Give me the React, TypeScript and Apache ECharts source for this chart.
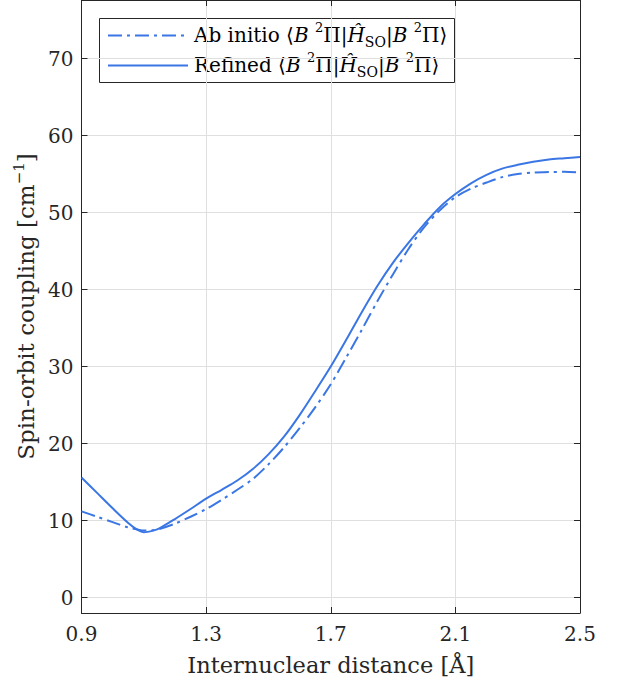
import React, { useEffect, useRef } from "react";
import * as echarts from "echarts";

const distance = [0.9, 0.95, 1.0, 1.05, 1.08, 1.1, 1.13, 1.15, 1.2, 1.25, 1.3, 1.35, 1.4, 1.45, 1.5, 1.55, 1.6, 1.65, 1.7, 1.75, 1.8, 1.85, 1.9, 1.95, 2.0, 2.05, 2.1, 2.15, 2.2, 2.25, 2.3, 2.35, 2.4, 2.45, 2.5];
const refined = [15.6, 13.6, 11.6, 9.7, 8.8, 8.5, 8.7, 9.0, 10.2, 11.5, 12.85, 14.0, 15.2, 16.7, 18.6, 20.9, 23.7, 26.8, 30.0, 33.5, 37.1, 40.5, 43.5, 46.1, 48.5, 50.7, 52.4, 53.8, 54.9, 55.7, 56.2, 56.6, 56.9, 57.05, 57.2];
const abInitio = [11.2, 10.5, 9.8, 9.1, 8.85, 8.7, 8.75, 8.9, 9.6, 10.5, 11.5, 12.7, 14.0, 15.4, 17.3, 19.5, 22.0, 24.7, 27.7, 31.2, 34.8, 38.5, 42.0, 45.3, 48.1, 50.3, 52.0, 53.1, 53.9, 54.6, 55.0, 55.2, 55.25, 55.3, 55.2];
const xTicks = [0.9, 1.3, 1.7, 2.1, 2.5];
const yTicks = [0, 10, 20, 30, 40, 50, 60, 70];
const legendNames = ["Ab initio", "Refined"];

const FONT = "DejaVu Serif";
const LINE_COLOR = "#3a76e4";
const AXIS_COLOR = "#262626";
const DASHDOT = [14, 5, 3, 5];

const mathRich = {
  n: { fontFamily: FONT, fontSize: 20, color: AXIS_COLOR, lineHeight: 28, verticalAlign: "middle" },
  i: { fontFamily: FONT, fontSize: 20, fontStyle: "italic", color: AXIS_COLOR, lineHeight: 28, verticalAlign: "middle" },
  sup: { fontFamily: FONT, fontSize: 13, color: AXIS_COLOR, lineHeight: 28, verticalAlign: "top" },
  sub: { fontFamily: FONT, fontSize: 14, color: AXIS_COLOR, lineHeight: 28, verticalAlign: "bottom" },
};

function legendText(name: string) {
  return `{n|${name} ⟨}{i|B }{sup|2}{n|Π|}{i|H\u0302}{sub|SO}{n||}{i|B }{sup|2}{n|Π⟩}`;
}

export default function App() {
  const ref = useRef<HTMLDivElement>(null);
  useEffect(() => {
    if (!ref.current) return;
    const chart = echarts.init(ref.current, undefined, { renderer: "svg" });
    const tickStyle = { show: true, inside: true, length: 6, lineStyle: { color: AXIS_COLOR, width: 1 } };
    const axisLine = { show: true, onZero: false, lineStyle: { color: AXIS_COLOR, width: 1 } };
    const gridLine = { show: true, lineStyle: { color: "#dfdfdf", width: 1 } };
    chart.setOption({
      animation: false,
      backgroundColor: "#ffffff",
      grid: { left: 81.5, right: 39, top: -2, bottom: 72, containLabel: false },
      xAxis: [
        {
          type: "value",
          position: "bottom",
          min: 0.9,
          max: 2.5,
          axisLine,
          axisTick: { ...tickStyle, customValues: xTicks },
          axisLabel: { customValues: xTicks, fontFamily: FONT, fontSize: 20, color: AXIS_COLOR, margin: 11, formatter: (v: number) => v.toFixed(1) },
          splitLine: gridLine,
          name: "Internuclear distance [Å]",
          nameLocation: "middle",
          nameGap: 40,
          nameTextStyle: { fontFamily: FONT, fontSize: 22.5, color: AXIS_COLOR },
        },
        {
          type: "value",
          position: "top",
          min: 0.9,
          max: 2.5,
          axisLine,
          axisTick: { ...tickStyle, customValues: xTicks },
          axisLabel: { show: false },
          splitLine: { show: false },
        },
      ],
      yAxis: [
        {
          type: "value",
          position: "left",
          min: -2,
          max: 77.6,
          axisLine,
          axisTick: { ...tickStyle, customValues: yTicks },
          axisLabel: { customValues: yTicks, fontFamily: FONT, fontSize: 20, color: AXIS_COLOR, margin: 8 },
          splitLine: gridLine,
          name: "Spin-orbit coupling [cm{sup|−1}]",
          nameLocation: "middle",
          nameRotate: 90,
          nameGap: 40,
          nameTextStyle: {
            fontFamily: FONT,
            fontSize: 23,
            color: AXIS_COLOR,
            rich: {
              sup: { fontFamily: FONT, fontSize: 15, color: AXIS_COLOR, verticalAlign: "top", lineHeight: 28 },
            },
          },
        },
        {
          type: "value",
          position: "right",
          min: -2,
          max: 77.6,
          axisLine,
          axisTick: { ...tickStyle, customValues: yTicks },
          axisLabel: { show: false },
          splitLine: { show: false },
        },
      ],
      series: [
        {
          name: legendNames[0],
          type: "line",
          data: distance.map((d, k) => [d, abInitio[k]]),
          showSymbol: false,
          smooth: 0.3,
          lineStyle: { color: LINE_COLOR, width: 2, type: DASHDOT, cap: "butt" },
          itemStyle: { color: LINE_COLOR },
          z: 3,
        },
        {
          name: legendNames[1],
          type: "line",
          data: distance.map((d, k) => [d, refined[k]]),
          showSymbol: false,
          smooth: 0.3,
          lineStyle: { color: LINE_COLOR, width: 2 },
          itemStyle: { color: LINE_COLOR },
          z: 4,
        },
      ],
      graphic: [
        {
          type: "group",
          z: 100,
          children: [
            {
              type: "rect",
              shape: { x: 99.5, y: 18.5, width: 355, height: 64 },
              style: { fill: "#ffffff", stroke: AXIS_COLOR, lineWidth: 1 },
            },
            {
              type: "line",
              shape: { x1: 108, y1: 35.5, x2: 188, y2: 35.5 },
              style: { stroke: LINE_COLOR, lineWidth: 2, lineDash: DASHDOT },
            },
            {
              type: "line",
              shape: { x1: 108, y1: 65.5, x2: 188, y2: 65.5 },
              style: { stroke: LINE_COLOR, lineWidth: 2 },
            },
            {
              type: "text",
              x: 194,
              y: 35,
              style: { text: legendText(legendNames[0]), rich: mathRich, verticalAlign: "middle", align: "left" },
            },
            {
              type: "text",
              x: 194,
              y: 65,
              style: { text: legendText(legendNames[1]), rich: mathRich, verticalAlign: "middle", align: "left" },
            },
          ],
        },
      ],
    });
    return () => chart.dispose();
  }, []);
  return <div ref={ref} style={{ position: "absolute", left: 0, top: 0, width: 619, height: 685 }} />;
}
